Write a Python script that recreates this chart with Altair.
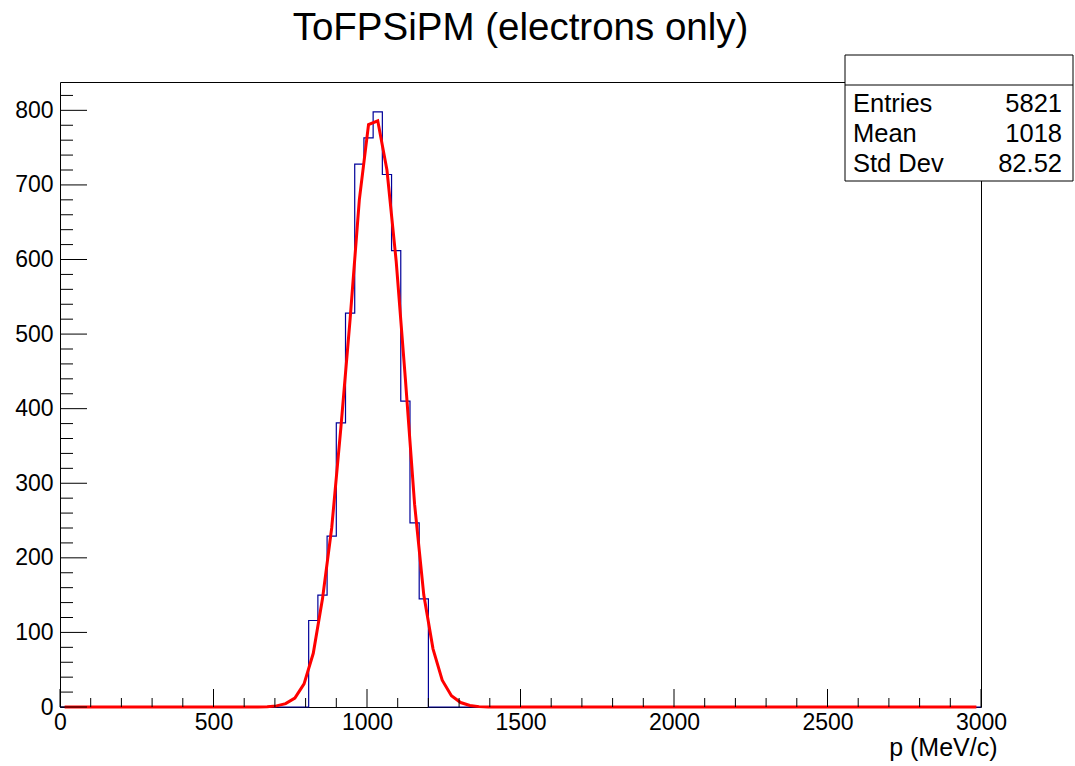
import altair as alt
import pandas as pd

FONT = "Liberation Sans"

# ---------------- data ----------------
title_text = "ToFPSiPM (electrons only)"
x_title = "p (MeV/c)"

x_min, x_max = 0, 3000
bin_width = 30
first_filled_edge = 810
filled_counts = [116, 150, 229, 381, 528, 728, 763, 798, 714, 612, 410, 247, 145]

fit_x = [675, 705, 735, 765, 795, 825, 855, 885, 915, 945, 975, 1005,
         1035, 1065, 1095, 1125, 1155, 1185, 1215, 1245, 1275, 1305, 1335, 1365]
fit_y = [0.3, 1.5, 4.5, 12, 31, 72, 145, 240, 375, 520, 680, 781,
         786, 720, 598, 440, 272, 150, 78, 36, 15, 6, 2, 0.5]

y_max = 838
x_major = [0, 500, 1000, 1500, 2000, 2500, 3000]
x_minor = [v for v in range(0, 3001, 100) if v % 500 != 0]
y_major = [0, 100, 200, 300, 400, 500, 600, 700, 800]
y_minor = [v for v in range(0, 839, 20) if v % 100 != 0]

stats_labels = ["Entries", "Mean", "Std Dev"]
stats_values = ["5821", "1018", "82.52"]

# ---------------- tables ----------------
n_bins = (x_max - x_min) // bin_width
first_idx = (first_filled_edge - x_min) // bin_width
counts = [0] * n_bins
for i, c in enumerate(filled_counts):
    counts[first_idx + i] = c
edges = [x_min + i * bin_width for i in range(n_bins)] + [x_max]
hist_df = pd.DataFrame({"x": edges, "n": counts + [0]})

centres = [x_min + bin_width / 2 + i * bin_width for i in range(n_bins)]
fit_map = dict(zip(fit_x, fit_y))
fit_df = pd.DataFrame({"x": centres, "n": [fit_map.get(int(c), 0.0) for c in centres]})

W, H = 921, 625

xs = alt.Scale(domain=[x_min, x_max], nice=False, zero=False)
ys = alt.Scale(domain=[0, y_max], nice=False, zero=True)

x_axis = alt.Axis(
    values=x_major, title=x_title, grid=False, ticks=False, domain=False,
    labelFont=FONT, labelFontSize=23, labelColor="black", labelPadding=4,
    labelFlush=False, labelOverlap=False, format="d",
    titleFont=FONT, titleFontSize=25, titleFontWeight="normal", titleColor="black",
    titleAnchor="end", titleAlign="right", titleX=937, titleY=48,
    titleBaseline="alphabetic")
y_axis = alt.Axis(
    values=y_major, title=None, grid=False, ticks=False, domain=False,
    labelFont=FONT, labelFontSize=23, labelColor="black", labelPadding=7,
    labelOverlap=False, labelFlush=False, format="d")

X = lambda f: alt.X(f, scale=xs, axis=x_axis)
Y = lambda f: alt.Y(f, scale=ys, axis=y_axis)

hist = alt.Chart(hist_df).mark_line(
    interpolate="step-after", color="#000099", strokeWidth=1.2
).encode(x=X("x:Q"), y=Y("n:Q"))

fit = alt.Chart(fit_df).mark_line(color="#ff0000", strokeWidth=3).encode(
    x=X("x:Q"), y=Y("n:Q"))

def xticks(vals, length):
    return alt.Chart(pd.DataFrame({"x": vals})).mark_rule(color="black", strokeWidth=1).encode(
        x=X("x:Q"), y=alt.value(H), y2=alt.value(H - length))

def yticks(vals, length):
    return alt.Chart(pd.DataFrame({"n": vals})).mark_rule(color="black", strokeWidth=1).encode(
        y=Y("n:Q"), x=alt.value(0), x2=alt.value(length))

title_layer = alt.Chart(pd.DataFrame({"t": [title_text]})).mark_text(
    font=FONT, fontSize=38.5, align="center", baseline="alphabetic", color="black"
).encode(x=alt.value(W / 2), y=alt.value(-42), text="t:N")

# stats box
box_x0, box_x1, box_y0, box_y1 = 785, 1013, -27, 99
stats_box = alt.Chart(pd.DataFrame({"a": [0]})).mark_rect(
    fill="white", stroke="black", strokeWidth=1
).encode(x=alt.value(box_x0), x2=alt.value(box_x1), y=alt.value(box_y0), y2=alt.value(box_y1))
stats_sep = alt.Chart(pd.DataFrame({"a": [0]})).mark_rule(color="black", strokeWidth=1).encode(
    x=alt.value(box_x0), x2=alt.value(box_x1), y=alt.value(3))

stat_layers = []
for i, (lab, val) in enumerate(zip(stats_labels, stats_values)):
    d = pd.DataFrame({"lab": [lab], "val": [val]})
    yb = 30 + 30 * i
    stat_layers.append(alt.Chart(d).mark_text(
        font=FONT, fontSize=25.5, align="left", baseline="alphabetic", color="black"
    ).encode(x=alt.value(793), y=alt.value(yb), text="lab:N"))
    stat_layers.append(alt.Chart(d).mark_text(
        font=FONT, fontSize=25.5, align="right", baseline="alphabetic", color="black"
    ).encode(x=alt.value(1002), y=alt.value(yb), text="val:N"))

chart = alt.layer(
    hist, fit,
    xticks(x_major, 18), xticks(x_minor, 9),
    yticks(y_major, 27), yticks(y_minor, 13),
    stats_box, stats_sep, *stat_layers, title_layer,
).properties(
    width=W, height=H,
    background="white",
    autosize=alt.AutoSizeParams(type="none"),
    padding={"left": 60, "top": 82, "right": 94, "bottom": 59},
).configure_view(
    stroke="black", strokeWidth=1, fill="white"
)

chart.save("out.html", embed_options={"renderer": "svg", "actions": False})
